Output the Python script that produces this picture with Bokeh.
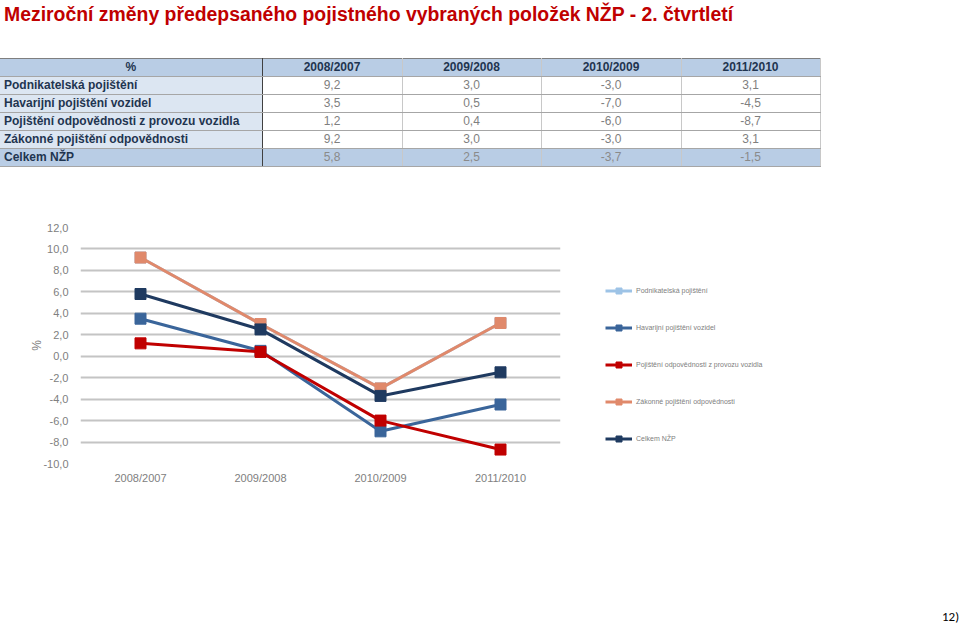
from bokeh.plotting import figure
from bokeh.models import (Div, Range1d, FactorRange, FixedTicker, Legend, LegendItem)
from bokeh.layouts import column
from bokeh.embed import file_html
from bokeh.resources import INLINE

title_text = "Meziroční změny předepsaného pojistného vybraných položek NŽP - 2. čtvrtletí"
periods = ["2008/2007", "2009/2008", "2010/2009", "2011/2010"]
series_names = [
    "Podnikatelská pojištění",
    "Havarijní pojištění vozidel",
    "Pojištění odpovědnosti z provozu vozidla",
    "Zákonné pojištění odpovědnosti",
    "Celkem NŽP",
]
podnikatelska = [9.2, 3.0, -3.0, 3.1]
havarijni = [3.5, 0.5, -7.0, -4.5]
povinne = [1.2, 0.4, -6.0, -8.7]
zakonne = [9.2, 3.0, -3.0, 3.1]
celkem = [5.8, 2.5, -3.7, -1.5]
series_values = [podnikatelska, havarijni, povinne, zakonne, celkem]
colors = ["#9DC3E6", "#3A659A", "#C00000", "#E0896B", "#1F3A60"]
y_ticks = [-10, -8, -6, -4, -2, 0, 2, 4, 6, 8, 10, 12]
y_tick_labels = ["-10,0", "-8,0", "-6,0", "-4,0", "-2,0", "0,0", "2,0", "4,0", "6,0", "8,0", "10,0", "12,0"]
page_number = "12)"

FONT = "'Liberation Sans', Arial, sans-serif"

def fmt(v):
    return f"{v:.1f}".replace(".", ",")

# ---------- title + table (HTML) ----------
col_w = [262, 140, 139, 140, 139]
cell_base = "height:17px;line-height:17px;padding:0;white-space:nowrap;overflow:hidden;"
rows_html = []
hdr = "<tr>"
hdr += (f"<td style='{cell_base}width:{col_w[0]}px;background:#B9CDE5;color:#1F3550;font-weight:bold;"
        f"text-align:center;border-top:1px solid #7F7F7F;border-bottom:1px solid #A6A6A6;border-right:1px solid #404040;'>%</td>")
for i, per in enumerate(periods):
    hdr += (f"<td style='{cell_base}width:{col_w[i+1]}px;background:#B9CDE5;color:#1F3550;font-weight:bold;"
            f"text-align:center;border-top:1px solid #7F7F7F;border-bottom:1px solid #A6A6A6;border-right:1px solid #C8C8C8;'>{per}</td>")
hdr += "</tr>"
rows_html.append(hdr)
for si, (name, vals) in enumerate(zip(series_names, series_values)):
    last = si == len(series_names) - 1
    lab_bg = "#B9CDE5" if last else "#DCE6F2"
    val_bg = "#B9CDE5" if last else "#FFFFFF"
    val_col = "#8A8A8A" if last else "#7F7F7F"
    r = "<tr>"
    r += (f"<td style='{cell_base}background:{lab_bg};color:#1F3550;font-weight:bold;text-align:left;"
          f"padding-left:4px;border-bottom:1px solid #A6A6A6;border-right:1px solid #404040;'>{name}</td>")
    for v in vals:
        r += (f"<td style='{cell_base}background:{val_bg};color:{val_col};text-align:center;"
              f"border-bottom:1px solid #A6A6A6;border-right:1px solid #C8C8C8;'>{fmt(v)}</td>")
    r += "</tr>"
    rows_html.append(r)

html = f"""
<div style="position:relative;width:960px;height:200px;font-family:{FONT};">
  <div style="position:absolute;left:4px;top:1px;font-size:19.4px;font-weight:bold;color:#C00000;white-space:nowrap;">{title_text}</div>
  <table style="position:absolute;left:0px;top:58px;border-collapse:collapse;table-layout:fixed;width:820px;font-size:12px;font-family:{FONT};">
  {''.join(rows_html)}
  </table>
</div>
"""
div = Div(text=html, width=960, height=200, margin=0)

# ---------- chart ----------
p = figure(frame_width=480, frame_height=236, x_range=FactorRange(*periods, range_padding=0),
           y_range=Range1d(-10, 12), output_backend="svg", toolbar_location=None,
           min_border_left=80, min_border_right=80, min_border_top=27, min_border_bottom=42)
p.outline_line_color = None
p.background_fill_color = "white"
p.border_fill_color = "white"
p.xgrid.grid_line_color = None
p.ygrid.grid_line_color = "#C4C4C4"
p.ygrid.grid_line_width = 2
p.yaxis.ticker = FixedTicker(ticks=y_ticks)
p.yaxis.major_label_overrides = {t: l for t, l in zip(y_ticks, y_tick_labels)}
for ax in (p.xaxis[0], p.yaxis[0]):
    ax.axis_line_color = None
    ax.major_tick_line_color = None
    ax.minor_tick_line_color = None
    ax.major_label_text_color = "#808080"
    ax.major_label_text_font = "Liberation Sans"
    ax.major_label_text_font_size = "11px"
p.yaxis.major_label_standoff = 6
p.xaxis.major_label_standoff = 2
p.yaxis.axis_label = "%"
p.yaxis.axis_label_text_font = "Liberation Sans"
p.yaxis.axis_label_text_font_style = "normal"
p.yaxis.axis_label_text_font_size = "12px"
p.yaxis.axis_label_text_color = "#808080"
p.yaxis.axis_label_standoff = -4

items = []
for name, vals, c in zip(series_names, series_values, colors):
    lr = p.line(periods, vals, line_color=c, line_width=3)
    sr = p.scatter(periods, vals, marker="square", size=11, fill_color=c, line_color=c)
    items.append(LegendItem(label=name, renderers=[lr, sr]))

legend = Legend(items=items, location=(45, 17), orientation="vertical",
                padding=0, margin=0, spacing=22, label_height=15, glyph_height=15,
                glyph_width=27, label_standoff=4, border_line_color=None,
                background_fill_alpha=0, label_text_font="Liberation Sans",
                label_text_font_size="7px", label_text_color="#808080")
p.add_layout(legend, "right")

footer = Div(text=f"""<div style="position:relative;width:960px;height:120px;">
<div style="position:absolute;left:942px;top:103px;font-family:Carlito, Calibri, {FONT};font-size:13px;color:#000;">{page_number}</div></div>""",
             width=960, height=120, margin=0)

layout = column(div, p, footer, spacing=0)
open("out.html", "w").write(file_html(layout, INLINE))
